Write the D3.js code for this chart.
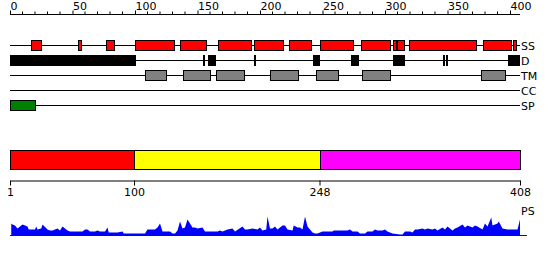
<!DOCTYPE html>
<html><head><meta charset="utf-8">
<script src="https://cdn.jsdelivr.net/npm/d3@7"></script>
<style>body{margin:0;background:#fff}svg{display:block}text{font-family:"DejaVu Sans",sans-serif;font-size:11px;fill:#000}</style>
</head><body><svg id="c" width="550" height="260"></svg>
<script>
const seqLength = 408;
const trackNames = ["SS", "D", "TM", "CC", "SP"];
const ssSegments = [[17,25],[54,57],[77,83],[100,131],[136,157],[166,193],[195,218],[223,241],[248,274],[281,304],[306,309],[310,315],[319,373],[378,401],[402,405]];
const dSegments = [[0,101],[154,156],[158,165],[195,197],[242,248],[273,279],[306,316],[346,348],[349,350],[398,408]];
const tmSegments = [[108,125],[138,160],[165,187],[208,230],[245,262],[282,304],[377,396]];
const ccSegments = [];
const spSegments = [[0,20]];
const domainStarts = [1, 100, 248];
const domainEnds = [100, 248, 408];
const domainColors = ["#ff0000", "#ffff00", "#ff00ff"];
const domainTicks = [1, 100, 248, 408];
const psResidue = [1,2,4,6,8,10,14,15,18,20,21,22,25,26,30,32,34,36,38,40,42,46,48,53,58,60,62,64,68,70,72,76,78,79,86,90,91,102,108,110,116,118,120,122,128,130,132,134,136,138,140,142,146,148,150,154,156,166,168,170,174,178,180,186,188,190,194,198,200,202,205,206,208,210,212,214,218,220,222,226,227,230,232,234,236,238,240,242,244,246,248,250,258,259,270,272,274,278,280,284,286,290,292,294,298,300,302,306,312,314,316,320,322,324,326,330,332,334,338,340,342,346,348,350,354,356,358,362,364,366,370,372,374,378,380,382,385,386,390,391,394,398,402,406,408];
const psScore = [12,11,10,7,9,11,9,6,6,6,9,6,7,11,6,5,5,6,7,5,9,5,4,4,4,6,6,4,4,5,4,4,8,3,3,4,2,2,2,6,6,8,12,4,4,2,2,5,14,7,8,16,8,8,7,8,4,4,5,4,6,7,4,9,6,6,7,6,8,5,6,19,7,7,9,6,10,10,6,5,10,8,8,6,19,9,6,3,2,2,3,4,4,5,5,6,4,4,2,2,4,4,6,5,5,6,4,2,1,1,4,4,3,6,6,7,6,7,6,7,5,8,6,9,5,7,8,11,8,10,8,10,9,6,12,9,18,10,12,14,7,6,6,6,16];

const svg = d3.select("#c");
const x = d3.scaleLinear().domain([0, seqLength]).range([10, 520]);

// top ruler
const topAxis = d3.axisTop(x).tickValues(d3.range(0, 401, 50)).tickSize(4).tickSizeOuter(0).tickFormat(d3.format("d"));
const ga = svg.append("g").attr("transform", "translate(0,14.5)").call(topAxis);
ga.select(".domain").attr("stroke", "#000").attr("d", "M10,0H520");
ga.selectAll(".tick text").attr("text-anchor", "start").attr("dy", 0).attr("y", -4.5).attr("x", 0)
  .style("font-family", "DejaVu Sans").style("font-size", "11px");
ga.selectAll(".tick line").attr("stroke", "#000");
svg.append("g").selectAll("line").data(d3.range(10, 401, 10).filter(v => v % 50 !== 0)).join("line")
  .attr("x1", d => x(d)).attr("x2", d => x(d)).attr("y1", 11.5).attr("y2", 14.5).attr("stroke", "#000");

// feature tracks
const rowY = d3.scalePoint().domain(trackNames).range([45.5, 105.5]);
const trackData = [
  {name: "SS", segs: ssSegments, fill: "#ff0000", stroke: "#000"},
  {name: "D", segs: dSegments, fill: "#000000", stroke: "none"},
  {name: "TM", segs: tmSegments, fill: "#808080", stroke: "#000"},
  {name: "CC", segs: ccSegments, fill: "#000", stroke: "#000"},
  {name: "SP", segs: spSegments, fill: "#008000", stroke: "#000"}
];
trackData.forEach(t => {
  const cy = rowY(t.name);
  const g = svg.append("g");
  g.append("line").attr("x1", x(0)).attr("x2", x(seqLength)).attr("y1", cy).attr("y2", cy).attr("stroke", "#000");
  const stroked = t.stroke !== "none";
  const h = stroked ? 10 : 11;
  g.selectAll("rect").data(t.segs).join("rect")
    .attr("x", d => Math.round(x(d[0])) + (stroked ? 0.5 : 0))
    .attr("width", d => Math.max(stroked ? 2 : 2, Math.round(x(d[1])) - Math.round(x(d[0]))))
    .attr("y", cy - h / 2).attr("height", h)
    .attr("fill", t.fill).attr("stroke", t.stroke).attr("stroke-width", 1);
  g.append("text").attr("x", 521).attr("y", cy + 4.5).text(t.name);
});

// domain bar
const xd = d3.scaleLinear().domain([1, seqLength]).range([10, 520]);
svg.append("g").selectAll("rect").data(domainStarts).join("rect")
  .attr("x", (d, i) => Math.round(xd(d)) + 0.5).attr("width", (d, i) => Math.round(xd(domainEnds[i])) - Math.round(xd(d)))
  .attr("y", 150.5).attr("height", 19).attr("fill", (d, i) => domainColors[i]).attr("stroke", "#000");
const bAxis = d3.axisBottom(xd).tickValues(domainTicks).tickSize(5).tickSizeOuter(0).tickFormat(d3.format("d"));
const gb = svg.append("g").attr("transform", "translate(0,180.5)").call(bAxis);
gb.select(".domain").attr("stroke", "#000");
gb.selectAll(".tick line").attr("stroke", "#000");
gb.selectAll(".tick text").attr("y", 8).attr("dy", "0.71em").style("font-family", "DejaVu Sans").style("font-size", "11px");

// PS profile
const yps = d3.scaleLinear().domain([0, 20]).range([235.5, 215.5]);
const psData = psResidue.map((r, i) => ({r, v: psScore[i]}));
svg.append("path").datum(psData)
  .attr("d", d3.area().x(d => x(d.r)).y0(yps(0)).y1(d => yps(d.v)))
  .attr("fill", "#0000ff");
svg.append("line").attr("x1", x(0)).attr("x2", 527).attr("y1", yps(0)).attr("y2", yps(0)).attr("stroke", "#0000ff");
svg.append("text").attr("x", 521).attr("y", 215).text("PS");
</script></body></html>
